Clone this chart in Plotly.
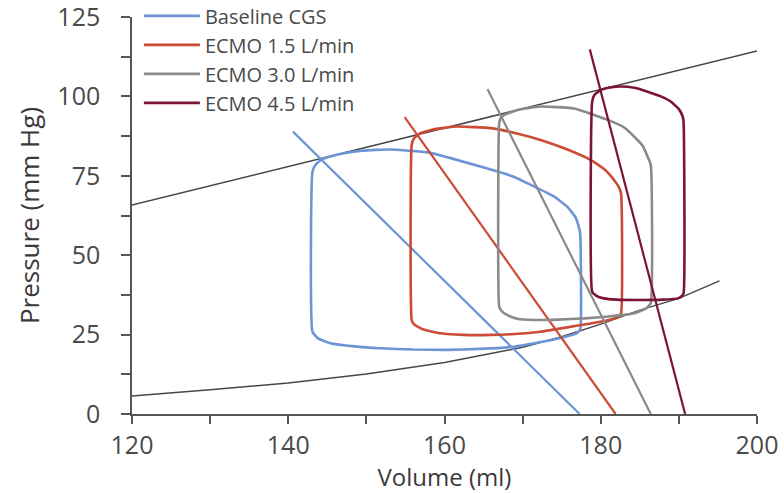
import plotly.graph_objects as go

# ---- data ----
baseline_v = [143.1, 143.1, 143.5, 144.3, 146.5, 149.5, 153.1, 158.0, 164.6, 168.5, 171.5, 174.0, 175.7, 176.8, 177.3, 177.4,
              177.4, 177.0, 175.0, 172.0, 168.9, 164.5, 160.3, 156.0, 151.8, 148.5, 145.4, 143.8, 143.1]
baseline_p = [25.9, 76.3, 78.5, 80.2, 81.8, 82.9, 83.3, 82.3, 77.9, 75.0, 71.6, 68.5, 65.3, 61.8, 57.9, 55.0,
              27.0, 25.5, 24.0, 22.5, 21.2, 20.5, 20.2, 20.3, 20.7, 21.3, 22.3, 23.8, 25.9]

ecmo15_v = [155.8, 155.8, 156.1, 156.9, 158.5, 161.6, 165.9, 169.0, 172.3, 175.5, 178.7, 180.5, 181.7, 182.3, 182.6,
            182.6, 182.2, 180.5, 178.7, 175.5, 172.3, 169.0, 165.9, 162.5, 159.5, 157.2, 156.1, 155.8]
ecmo15_p = [29.6, 84.7, 86.8, 88.4, 89.6, 90.5, 90.0, 88.5, 86.3, 83.5, 80.0, 77.0, 73.7, 71.5, 69.5,
            31.7, 30.5, 29.3, 28.5, 27.2, 25.9, 25.2, 24.9, 24.9, 25.4, 26.7, 28.2, 29.6]

ecmo30_v = [167.0, 167.0, 167.2, 167.6, 169.5, 172.3, 176.6, 180.9, 183.0, 184.3, 185.4, 186.0, 186.4,
            186.4, 185.8, 184.3, 181.0, 177.9, 174.5, 171.5, 169.3, 168.0, 167.3, 167.0]
ecmo30_p = [33.8, 91.5, 93.2, 94.1, 95.8, 96.8, 96.2, 92.6, 90.2, 87.3, 84.3, 81.0, 78.5,
            34.9, 33.2, 31.7, 30.7, 30.1, 29.7, 29.6, 30.0, 31.2, 32.5, 33.8]

ecmo45_v = [178.9, 178.9, 179.2, 180.0, 181.2, 182.6, 184.3, 186.0, 187.7, 189.0, 190.0, 190.5, 190.6,
            190.6, 190.3, 189.9, 188.0, 184.7, 182.0, 180.4, 179.4, 178.9]
ecmo45_p = [38.5, 98.3, 100.5, 102.0, 102.8, 103.1, 102.7, 101.5, 100.0, 98.3, 96.0, 93.6, 92.0,
            38.0, 37.0, 36.4, 36.0, 35.9, 36.0, 36.4, 37.3, 38.5]

# arterial elastance lines (start point, volume-axis intercept)
ea_baseline_v = [140.6, 177.3]
ea_baseline_p = [88.9, 0]
ea_ecmo15_v = [154.9, 181.9]
ea_ecmo15_p = [93.5, 0]
ea_ecmo30_v = [165.5, 186.4]
ea_ecmo30_p = [102.3, 0]
ea_ecmo45_v = [178.6, 190.8]
ea_ecmo45_p = [114.8, 0]

# end-systolic and end-diastolic pressure-volume relations
espvr_v = [120, 200]
espvr_p = [65.8, 114.3]
edpvr_v = [120, 130, 140, 150, 160, 165, 170, 175, 180, 185, 190, 195.2]
edpvr_p = [5.7, 7.6, 9.8, 12.6, 16.2, 18.5, 21.0, 24.3, 28.3, 32.7, 36.4, 41.9]

series_names = ["Baseline CGS", "ECMO 1.5 L/min", "ECMO 3.0 L/min", "ECMO 4.5 L/min"]
colors = ["#6d95d6", "#cc4b37", "#8a8a8a", "#7b1535"]

x_tickvals = [120, 130, 140, 150, 160, 170, 180, 190, 200]
x_ticktext = ["120", "", "140", "", "160", "", "180", "", "200"]
y_tickvals = [0, 12.5, 25, 37.5, 50, 62.5, 75, 87.5, 100, 112.5, 125]
y_ticktext = ["0", "", "25", "", "50", "", "75", "", "100", "", "125"]

loops = [(baseline_v, baseline_p), (ecmo15_v, ecmo15_p), (ecmo30_v, ecmo30_p), (ecmo45_v, ecmo45_p)]
ea_lines = [(ea_baseline_v, ea_baseline_p), (ea_ecmo15_v, ea_ecmo15_p),
            (ea_ecmo30_v, ea_ecmo30_p), (ea_ecmo45_v, ea_ecmo45_p)]

fig = go.Figure()

fig.add_trace(go.Scatter(x=espvr_v, y=espvr_p, mode="lines", line=dict(color="#474747", width=1.5),
                         showlegend=False, hoverinfo="skip"))
fig.add_trace(go.Scatter(x=edpvr_v, y=edpvr_p, mode="lines", line=dict(color="#474747", width=1.5),
                         showlegend=False, hoverinfo="skip"))

for i, ((lv, lp), (ev, ep)) in enumerate(zip(loops, ea_lines)):
    fig.add_trace(go.Scatter(x=lv, y=lp, mode="lines", name=series_names[i],
                             line=dict(color=colors[i], width=2.6, shape="spline", smoothing=0.4)))
    fig.add_trace(go.Scatter(x=ev, y=ep, mode="lines", showlegend=False,
                             line=dict(color=colors[i], width=2.2)))

axis_font = dict(family="Open Sans", size=25, color="#4a4a4a")

fig.update_layout(
    width=784, height=493,
    margin=dict(l=132, r=27, t=17, b=79, autoexpand=False),
    paper_bgcolor="white", plot_bgcolor="white",
    font=dict(family="Open Sans", color="#444"),
    legend=dict(x=0.011, y=1.052, xanchor="left", yanchor="top", bgcolor="rgba(0,0,0,0)",
                font=dict(family="Open Sans", size=20, color="#4a4a4a"),
                traceorder="normal", itemwidth=56),
    xaxis=dict(range=[120, 200], tickvals=x_tickvals, ticktext=x_ticktext, showgrid=False, zeroline=False,
               showline=True, linecolor="#555", linewidth=1.5, ticks="outside", ticklen=8, tickwidth=1.5,
               tickcolor="#555", tickfont=axis_font, automargin=False, ticklabeloverflow="allow",
               title=dict(text="Volume (ml)", font=dict(family="Open Sans", size=24, color="#3a3a3a"), standoff=18)),
    yaxis=dict(range=[0, 125], tickvals=y_tickvals, ticktext=y_ticktext, showgrid=False, zeroline=False,
               showline=True, linecolor="#555", linewidth=1.5, ticks="outside", ticklen=9, tickwidth=1.5,
               tickcolor="#555", tickfont=axis_font, ticklabelstandoff=16, automargin=False,
               ticklabeloverflow="allow",
               title=dict(text="Pressure (mm Hg)", font=dict(family="Open Sans", size=26, color="#3a3a3a"), standoff=10)),
)

fig.write_html("out.html")
